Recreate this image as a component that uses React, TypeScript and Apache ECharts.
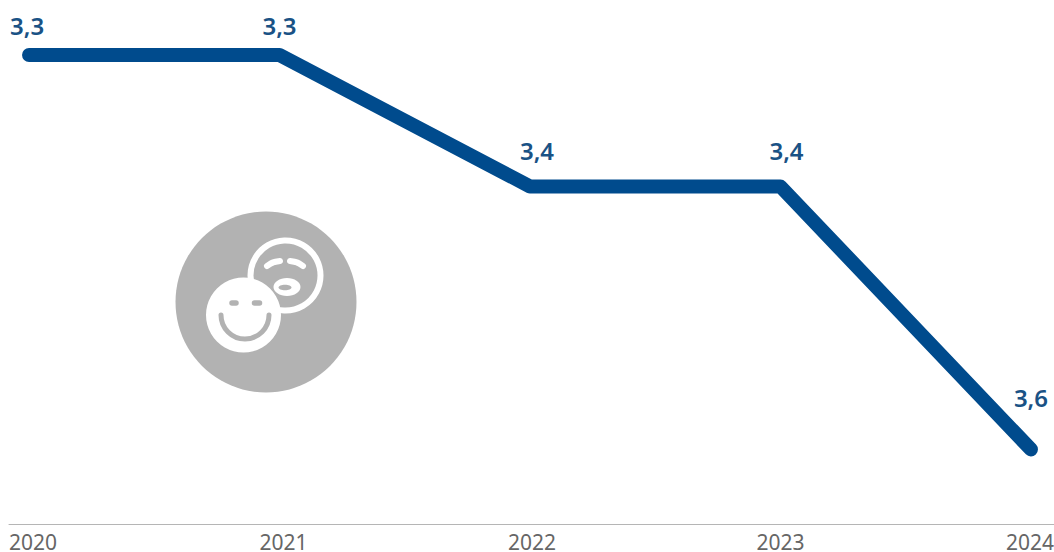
import React, { useEffect, useRef } from "react";
import * as echarts from "echarts";

const years = [2020, 2021, 2022, 2023, 2024];
const values = [3.3, 3.3, 3.4, 3.4, 3.6];

const BLUE = "#004b8d";
const GREY = "#b2b2b2";
const WHITE = "#ffffff";

const labelShift = [[-2, -4], [0, -4], [7, -10], [6, -10], [0, -26]];
const tickNudgePx = [4, 4, 2, 0, -1];
const PX_PER_YEAR = 1045 / 4.172;

const curve = (x1: number, y1: number, cx: number, cy: number, x2: number, y2: number) => ({
  type: "bezierCurve",
  shape: { x1, y1, x2, y2, cpx1: cx, cpy1: cy, cpx2: cx, cpy2: cy },
  style: { stroke: WHITE, lineWidth: 6, lineCap: "round", fill: "none" },
});

const icon: any[] = [
  { type: "circle", shape: { cx: 266, cy: 302, r: 90.5 }, style: { fill: GREY } },
  { type: "circle", shape: { cx: 285.5, cy: 275.5, r: 35 }, style: { fill: GREY, stroke: WHITE, lineWidth: 6 } },
  curve(267, 266, 273, 262, 280, 261),
  curve(290, 261, 297, 262, 303, 266),
  { type: "ellipse", shape: { cx: 287, cy: 287, rx: 13.5, ry: 9 }, style: { fill: WHITE } },
  { type: "ellipse", shape: { cx: 285, cy: 287.5, rx: 6.5, ry: 2.8 }, style: { fill: GREY } },
  { type: "circle", shape: { cx: 243.5, cy: 315, r: 37.5 }, style: { fill: WHITE } },
  { type: "line", shape: { x1: 232, y1: 303, x2: 236, y2: 303 }, style: { stroke: GREY, lineWidth: 5.5, lineCap: "round" } },
  { type: "line", shape: { x1: 254.5, y1: 303, x2: 259.5, y2: 303 }, style: { stroke: GREY, lineWidth: 5.5, lineCap: "round" } },
  { type: "arc", shape: { cx: 245, cy: 315, r: 24, startAngle: 0, endAngle: Math.PI }, style: { stroke: GREY, lineWidth: 5, fill: "none", lineCap: "round" } },
];

export default function App() {
  const ref = useRef<HTMLDivElement>(null);
  useEffect(() => {
    const chart = echarts.init(ref.current!, undefined, { renderer: "svg" });
    chart.setOption({
      animation: false,
      backgroundColor: "#ffffff",
      grid: { left: 9, right: 0, top: 55, bottom: 28, outerBoundsMode: "none" },
      xAxis: {
        type: "value",
        min: 2019.92,
        max: 2024.092,
        splitLine: { show: false },
        axisTick: { show: false },
        axisLine: { show: true, lineStyle: { color: "#b5b5b5", width: 1 } },
        axisLabel: {
          customValues: years.map((y, i) => y + tickNudgePx[i] / PX_PER_YEAR),
          formatter: (v: number) => String(Math.round(v)),
          color: "#666666",
          fontFamily: "Noto Sans",
          fontSize: 21,
          margin: 7,
          hideOverlap: false,
          showMinLabel: true,
          showMaxLabel: true,
        },
      },
      yAxis: {
        type: "value",
        inverse: true,
        min: 3.3,
        max: 3.6567,
        show: false,
        splitLine: { show: false },
      },
      series: [
        {
          type: "line",
          clip: false,
          symbol: "circle",
          symbolSize: 1,
          itemStyle: { opacity: 0 },
          lineStyle: { color: BLUE, width: 14, cap: "round", join: "round" },
          label: {
            show: true,
            position: "top",
            distance: 13,
            opacity: 1,
            color: "#1a5285",
            fontFamily: "Noto Sans",
            fontWeight: 600,
            fontSize: 24,
            formatter: (p: any) => String(p.value[1]).replace(".", ","),
          },
          data: years.map((y, i) => ({
            value: [y, values[i]],
            label: { offset: labelShift[i] },
          })),
        },
      ],
      graphic: { elements: icon },
    });
    return () => chart.dispose();
  }, []);
  return <div ref={ref} style={{ position: "fixed", left: 0, top: 0, width: 1054, height: 552 }} />;
}
